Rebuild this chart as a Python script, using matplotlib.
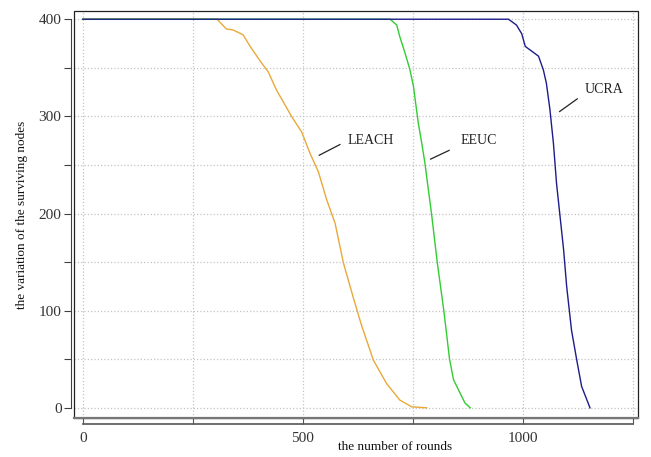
import matplotlib.pyplot as plt
from matplotlib.patches import Rectangle
import numpy as np

# values (rounds, surviving nodes)
leach_x = [0, 305, 326, 341, 364, 380, 406, 421, 440, 459, 474, 497, 516, 535, 554, 573,
           592, 614, 633, 660, 690, 720, 747, 781]
leach_y = [400, 400, 390, 389, 384, 372, 355, 346, 327, 312, 300, 284, 262, 243, 214, 190,
           149, 114, 85, 49, 25, 8, 1, 0]

eeuc_x = [0, 698, 713, 720, 732, 743, 751, 755, 762, 770, 777, 785, 792, 805, 820, 833,
          842, 857, 868, 880]
eeuc_y = [400, 400, 394, 382, 365, 348, 331, 317, 293, 272, 252, 224, 200, 150, 100, 50,
          29, 15, 5, 0]

ucra_x = [0, 967, 985, 997, 1005, 1020, 1035, 1046, 1053, 1061, 1069, 1076, 1084, 1092,
          1099, 1110, 1122, 1133, 1152]
ucra_y = [400, 400, 394, 385, 372, 367, 362, 348, 334, 307, 272, 231, 197, 163,
          125, 80, 49, 22, 0]

x_ticks = [0, 250, 500, 750, 1000, 1250]
x_labels = ['0', '', '500', '', '1000', '']
y_ticks = np.arange(0, 401, 50)
y_labels = ['0', '', '100', '', '200', '', '300', '', '400']

plt.rcParams['font.family'] = ['Liberation Serif', 'DejaVu Serif']

fig = plt.figure(figsize=(6.51, 4.57), dpi=100)
ax = fig.add_axes([0.1137, 0.0853, 0.980 - 0.1137, 0.976 - 0.0853])

ax.plot(leach_x, leach_y, color='#e8a93a', lw=1.0)
ax.plot(eeuc_x, eeuc_y, color='#33cc33', lw=1.0)
ax.plot(ucra_x, ucra_y, color='#1c1c8a', lw=1.0)

ax.set_xlim(-20, 1261)
ax.set_ylim(-10.5, 408.5)

ax.set_xticks(x_ticks)
ax.set_xticklabels(x_labels)
ax.set_yticks(y_ticks)
ax.set_yticklabels(y_labels)
ax.grid(True, color='#c4c4c4', ls=':', lw=0.9)
ax.set_axisbelow(True)

# frame + detached axes
for s in ['top', 'right']:
    ax.spines[s].set_visible(False)
ax.spines['left'].set_position(('outward', 2))
ax.spines['left'].set_bounds(0, 400)
ax.spines['left'].set_color('#404040')
ax.spines['bottom'].set_position(('outward', 4))
ax.spines['bottom'].set_bounds(0, 1250)
ax.spines['bottom'].set_color('#555555')
ax.spines['bottom'].set_linewidth(1.2)
ax.tick_params(axis='y', direction='out', length=5, color='#404040', labelsize=11, pad=2,
               labelcolor='#333333')
ax.tick_params(axis='x', direction='in', length=5, color='#555555', labelsize=11, pad=6,
               labelcolor='#333333')
ax.add_patch(Rectangle((0, 0), 1, 1, transform=ax.transAxes, fill=False,
                       edgecolor='#222222', lw=0.9, clip_on=False, zorder=5))
ax.plot([0, 1], [0, 0], transform=ax.transAxes, color='#777777', lw=1.6, clip_on=False, zorder=6)

# curve labels
ax.text(602, 275, 'LEACH', fontsize=10, va='center', color='#222222')
ax.plot([537, 584], [260, 271], color='#222222', lw=0.9)
ax.text(859, 275, 'EEUC', fontsize=10, va='center', color='#222222')
ax.plot([790, 832], [256, 265], color='#222222', lw=0.9)
ax.text(1141, 328, 'UCRA', fontsize=10, va='center', color='#222222')
ax.plot([1083, 1123], [305, 318], color='#222222', lw=0.9)

fig.text(395 / 651, 1 - 447 / 457, 'the number of rounds', ha='center', va='center',
         fontsize=9.5, color='#111111')
fig.text(22 / 651, 1 - 215 / 457, 'the variation of the surviving nodes', ha='center',
         va='center', rotation=90, fontsize=9.5, color='#111111')

fig.savefig('out.png', dpi=100)
